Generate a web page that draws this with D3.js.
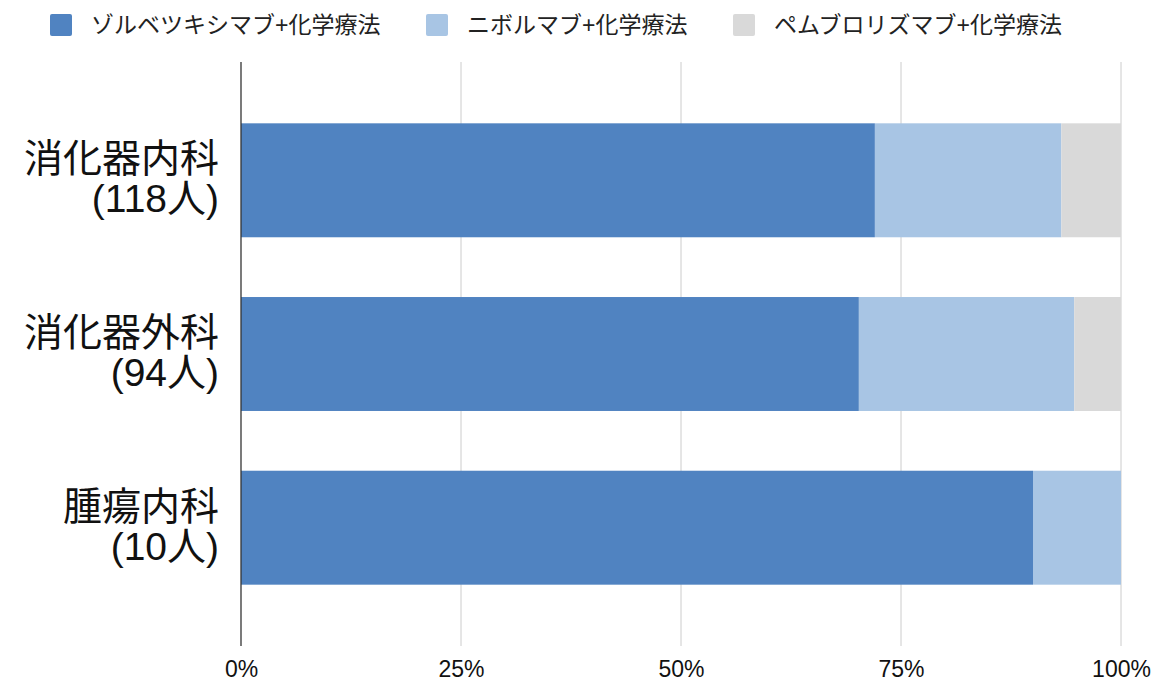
<!DOCTYPE html>
<html>
<head>
<meta charset="utf-8">
<script src="https://cdn.jsdelivr.net/npm/d3@7"></script>
<style>
	body { margin: 0; background: #fff; }
	text { font-family: "Liberation Sans", Arial, "Noto Sans CJK JP", sans-serif; }
</style>
</head>
<body>
<svg id="chart" width="1156" height="690"></svg>
<script>
// categories, two lines each
const categories = ["消化器内科", "消化器外科", "腫瘍内科"]
const categoryCounts = ["(118人)", "(94人)", "(10人)"]

// series (patients per regimen)
const seriesNames = ["ゾルベツキシマブ+化学療法", "ニボルマブ+化学療法", "ペムブロリズマブ+化学療法"]
const zolbetuximab = [85, 66, 9]
const nivolumab = [25, 23, 1]
const pembrolizumab = [8, 5, 0]
const seriesColours = ["#5083c1", "#a8c5e4", "#d9d9d9"]

const tickValues = [0, 0.25, 0.5, 0.75, 1]

const svg = d3.select("#chart")
const margin = { left: 241, right: 35, top: 62, bottom: 44 }
const width = 1156
const height = 690

const rows = categories.map((c, i) => ({
	category: c,
	[seriesNames[0]]: zolbetuximab[i],
	[seriesNames[1]]: nivolumab[i],
	[seriesNames[2]]: pembrolizumab[i],
}))

/**
 * 100% stacked: the expand offset normalises each row
 */
const stacked = d3.stack().keys(seriesNames).offset(d3.stackOffsetExpand)(rows)

const x = d3.scaleLinear().domain([0, 1]).range([margin.left, width - margin.right])
const y = d3
	.scaleBand()
	.domain(categories)
	.range([margin.top, height - margin.bottom])
	.paddingInner(0.344)
	.paddingOuter(0.353)

// gridlines
svg
	.append("g")
	.selectAll("line")
	.data(tickValues.slice(1))
	.enter()
	.append("line")
	.attr("x1", d => x(d))
	.attr("x2", d => x(d))
	.attr("y1", margin.top)
	.attr("y2", height - margin.bottom)
	.attr("stroke", "#cccccc")
	.attr("stroke-width", 1)

// bars
svg
	.append("g")
	.selectAll("g")
	.data(stacked)
	.enter()
	.append("g")
	.attr("fill", (d, i) => seriesColours[i])
	.selectAll("rect")
	.data(d => d)
	.enter()
	.append("rect")
	.attr("x", d => x(d[0]))
	.attr("width", d => x(d[1]) - x(d[0]))
	.attr("y", d => y(d.data.category))
	.attr("height", y.bandwidth())

// axis line at 0%
svg
	.append("line")
	.attr("x1", x(0))
	.attr("x2", x(0))
	.attr("y1", margin.top)
	.attr("y2", height - margin.bottom)
	.attr("stroke", "#333333")
	.attr("stroke-width", 1.3)

// x tick labels
const xAxis = svg
	.append("g")
	.attr("transform", `translate(0,${height - margin.bottom})`)
	.call(
		d3
			.axisBottom(x)
			.tickValues(tickValues)
			.tickFormat(d3.format(".0%"))
			.tickSize(0)
			.tickPadding(15)
	)
xAxis.select(".domain").remove()
xAxis
	.selectAll("text")
	.attr("font-size", 23)
	.attr("fill", "#111")
	.attr("font-family", "'Liberation Sans', Arial, sans-serif")

// category labels
const catLabel = svg
	.append("g")
	.selectAll("text")
	.data(categories)
	.enter()
	.append("text")
	.attr("text-anchor", "end")
	.attr("font-size", 39)
	.attr("fill", "#111")
	.attr("transform", d => `translate(219,${y(d) + y.bandwidth() / 2})`)

catLabel
	.append("tspan")
	.attr("x", 0)
	.attr("y", -8)
	.text(d => d)

catLabel
	.append("tspan")
	.attr("x", 0)
	.attr("y", 32)
	.text((d, i) => categoryCounts[i])

// legend
const legendX = [50, 426, 733]
const legend = svg
	.append("g")
	.selectAll("g")
	.data(seriesNames)
	.enter()
	.append("g")
	.attr("transform", (d, i) => `translate(${legendX[i]},14)`)

legend
	.append("rect")
	.attr("width", 22)
	.attr("height", 22)
	.attr("rx", 2)
	.attr("fill", (d, i) => seriesColours[i])

legend
	.append("text")
	.attr("x", 41)
	.attr("y", 19)
	.attr("font-size", 23)
	.attr("fill", "#222")
	.text(d => d)
</script>
</body>
</html>
